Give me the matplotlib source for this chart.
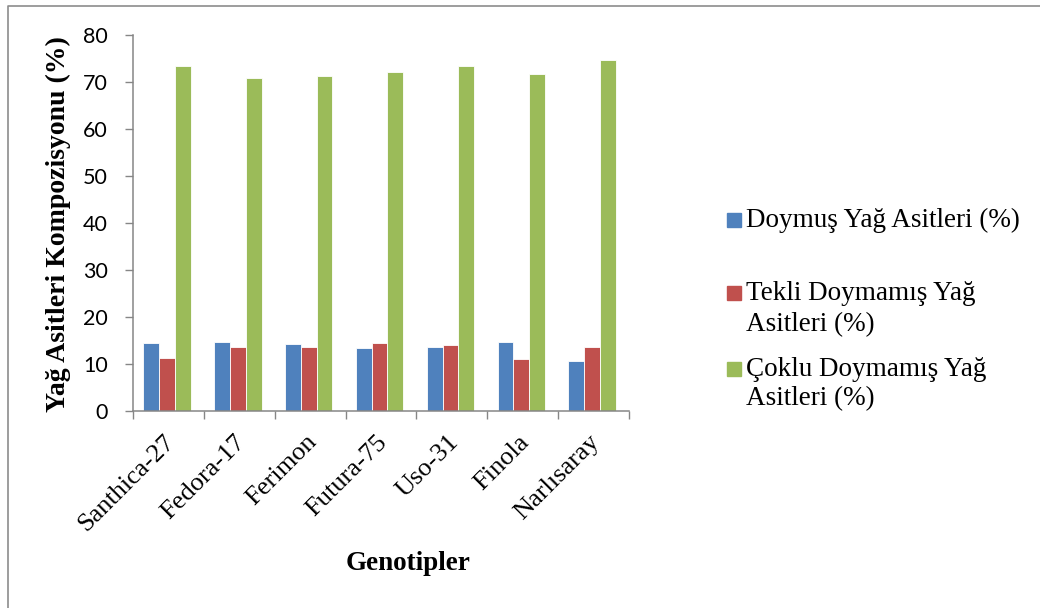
import matplotlib
matplotlib.use("Agg")
import matplotlib.pyplot as plt
import numpy as np
from matplotlib.lines import Line2D
from matplotlib.patches import Rectangle
from matplotlib.transforms import ScaledTranslation

genotypes = ['Santhica-27', 'Fedora-17', 'Ferimon', 'Futura-75', 'Uso-31', 'Finola', 'Narlısaray']
saturated = [14.4, 14.7, 14.3, 13.4, 13.6, 14.6, 10.6]
mono_unsat = [11.3, 13.7, 13.6, 14.5, 14.1, 11.1, 13.6]
poly_unsat = [73.5, 70.9, 71.3, 72.1, 73.5, 71.7, 74.7]
series_names = ['Doymuş Yağ Asitleri (%)',
                'Tekli Doymamış Yağ\nAsitleri (%)',
                'Çoklu Doymamış Yağ\nAsitleri (%)']
colors = ['#4F81BD', '#C0504D', '#9BBB59']
y_ticks = [0, 10, 20, 30, 40, 50, 60, 70, 80]

W, H = 1040, 608
serif = 'Liberation Serif'

fig = plt.figure(figsize=(W / 100, H / 100), dpi=100)
ax = fig.add_axes([133 / W, (H - 411) / H, 496 / W, 376 / H])

x = np.arange(len(genotypes))
bw = 0.223
for i, vals in enumerate([saturated, mono_unsat, poly_unsat]):
    ax.bar(x + (i - 1) * bw - 0.02, vals, width=bw, color=colors[i],
           edgecolor='#ffffff', linewidth=0.6)

ax.set_xlim(-0.5, len(genotypes) - 0.5)
ax.set_ylim(0, 80)
ax.set_yticks(y_ticks)
ax.set_yticklabels([str(t) for t in y_ticks], fontfamily='Lato', fontsize=15.5)

# category boundaries get the tick marks, centers get the labels
ax.set_xticks(np.arange(len(genotypes) + 1) - 0.5)
ax.set_xticklabels([])
ax.set_xticks(x, minor=True)
ax.set_xticklabels(genotypes, minor=True, rotation=45, ha='right', va='center',
                   rotation_mode='anchor', fontfamily=serif, fontsize=19)
ax.tick_params(axis='x', which='minor', length=0, pad=20)
ax.tick_params(axis='x', which='major', length=6, width=1, color='#868686', direction='out')
ax.tick_params(axis='y', length=6, width=1, color='#868686', direction='out', pad=12)
for lbl in ax.get_xticklabels(minor=True):
    lbl.set_transform(lbl.get_transform() + ScaledTranslation(0.03, 0, fig.dpi_scale_trans))

for s in ['top', 'right']:
    ax.spines[s].set_visible(False)
for s in ['left', 'bottom']:
    ax.spines[s].set_color('#868686')
    ax.spines[s].set_linewidth(1.1)

fig.text(58 / W, (H - 224) / H, 'Yağ Asitleri Kompozisyonu (%)', rotation=90,
         ha='center', va='center', fontfamily=serif, fontweight='bold', fontsize=20)
fig.text(408 / W, (H - 563) / H, 'Genotipler', ha='center', va='center',
         fontfamily=serif, fontweight='bold', fontsize=19.5)

# legend drawn by hand: square beside first line of each entry
line_rows = [[220], [293, 325], [369, 399]]
for name, col, rows in zip(series_names, colors, line_rows):
    fig.add_artist(Rectangle((727 / W, (H - rows[0] - 7) / H), 14 / W, 14 / H,
                             transform=fig.transFigure, color=col))
    for line, yy in zip(name.split('\n'), rows):
        fig.text(746 / W, (H - yy) / H, line, ha='left', va='center',
                 fontfamily=serif, fontsize=19.5)

# outer frame (left and top only)
fig.add_artist(Line2D([8 / W, 8 / W, 1], [0, (H - 6) / H, (H - 6) / H],
                      transform=fig.transFigure, color='#8c8c8c', lw=1.2))

fig.savefig('out.png', dpi=100)
